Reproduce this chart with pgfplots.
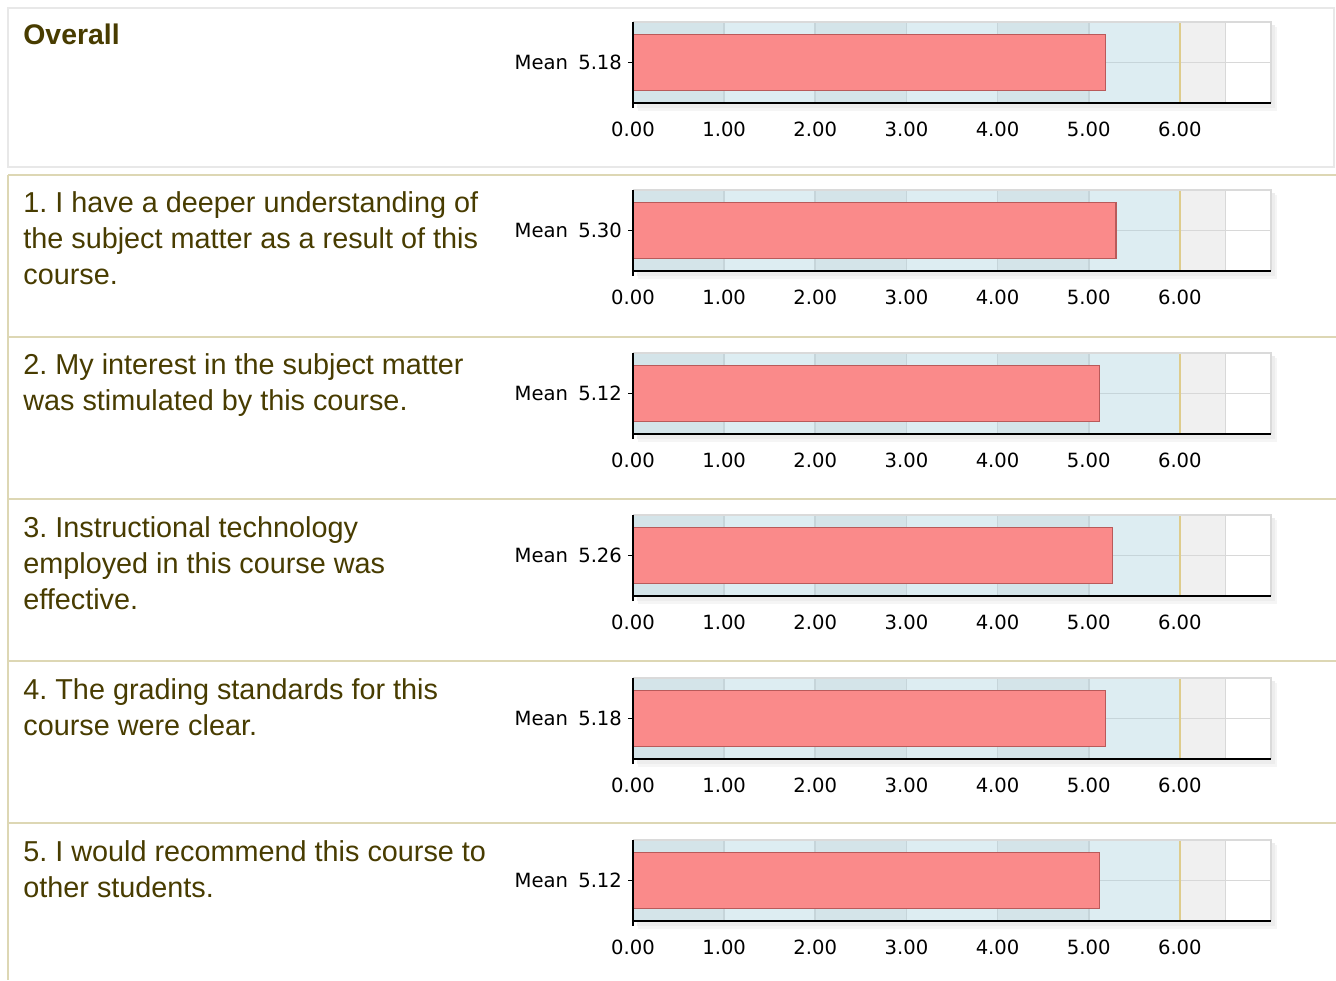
\documentclass[border=0pt]{standalone}
\usepackage{fontspec}
\setmainfont{Liberation Sans}
\newfontfamily\tickfont{DejaVu Sans}
\usepackage{pgfplots}
\pgfplotsset{compat=1.18}
\frenchspacing
\definecolor{txtol}{RGB}{72,60,0}
\definecolor{bandD}{RGB}{212,228,233}
\definecolor{bandL}{RGB}{221,237,242}
\definecolor{gridc}{RGB}{198,213,218}
\definecolor{grayreg}{RGB}{240,240,240}
\definecolor{gridg}{RGB}{216,216,216}
\definecolor{goldc}{RGB}{222,204,140}
\definecolor{barfill}{RGB}{250,138,138}
\definecolor{baredge}{RGB}{185,90,90}
\definecolor{framec}{RGB}{218,218,218}
\definecolor{tan}{RGB}{221,215,180}
\definecolor{box1}{RGB}{232,232,232}

\pgfplotsset{panel/.style={
  scale only axis, width=319pt, height=40.5pt,
  xmin=0, xmax=7, ymin=0, ymax=1,
  axis line style={draw=none},
  xtick={0,1,2,3,4,5,6}, ytick={0.5},
  xticklabels={0.00,1.00,2.00,3.00,4.00,5.00,6.00},
  tick align=outside, major tick length=2.5pt,
  xtick pos=left, ytick pos=left,
  tick style={black, line width=0.6pt},
  ticklabel style={font=\tickfont\fontsize{9.8}{11}\selectfont, text=black},
  xticklabel style={yshift=-3.5pt},
  yticklabel style={xshift=0.5pt},
  anchor=south west,
  clip=false,
}}

\newcommand\panelbg{%
  \fill[black!4] (axis cs:0.06,-0.10) rectangle (axis cs:7.07,0.94);
  \fill[black!7] (axis cs:0.04,-0.06) rectangle (axis cs:7.04,0.96);
  \fill[white] (axis cs:0,0) rectangle (axis cs:7,1);
  \fill[bandD] (axis cs:0,0) rectangle (axis cs:1,1);
  \fill[bandL] (axis cs:1,0) rectangle (axis cs:2,1);
  \fill[bandD] (axis cs:2,0) rectangle (axis cs:3,1);
  \fill[bandL] (axis cs:3,0) rectangle (axis cs:4,1);
  \fill[bandD] (axis cs:4,0) rectangle (axis cs:5,1);
  \fill[bandL] (axis cs:5,0) rectangle (axis cs:6,1);
  \fill[grayreg] (axis cs:6,0) rectangle (axis cs:6.5,1);
  \draw[gridc, line width=0.8pt] (axis cs:1,0) -- (axis cs:1,1);
  \draw[gridc, line width=0.8pt] (axis cs:2,0) -- (axis cs:2,1);
  \draw[gridc, line width=0.8pt] (axis cs:3,0) -- (axis cs:3,1);
  \draw[gridc, line width=0.8pt] (axis cs:4,0) -- (axis cs:4,1);
  \draw[gridc, line width=0.8pt] (axis cs:5,0) -- (axis cs:5,1);
  \draw[gridc, line width=0.8pt] (axis cs:0,0.5) -- (axis cs:6,0.5);
  \draw[gridg, line width=0.8pt] (axis cs:6,0.5) -- (axis cs:7,0.5);
  \draw[gridg, line width=0.8pt] (axis cs:6.5,0) -- (axis cs:6.5,1);
  \draw[goldc, line width=1.1pt] (axis cs:6,0) -- (axis cs:6,1);
}
\newcommand\panelframe{%
  \draw[framec, line width=1pt] (axis cs:0,1) -- (axis cs:7,1) -- (axis cs:7,0);
  \draw[black, line width=0.8pt] (axis cs:0,1) -- (axis cs:0,0) -- (axis cs:7,0);
}
\newcommand\qtext[2]{\node[anchor=base west, inner sep=0pt, text=txtol, font=\fontsize{14.4}{18}\selectfont] at (11.5pt,#1) {#2};}

\begin{document}
\begin{tikzpicture}
\path[use as bounding box] (0pt,0pt) rectangle (668pt,-490pt);
\fill[white] (0pt,0pt) rectangle (668pt,-490pt);
% panel frames
\draw[box1, line width=1pt] (4pt,-4pt) rectangle (667pt,-83.5pt);
\draw[tan, line width=1pt] (4pt,-87.5pt) -- (668pt,-87.5pt);
\draw[tan, line width=1.2pt] (4pt,-168.5pt) -- (668pt,-168.5pt);
\draw[tan, line width=1.2pt] (4pt,-249.5pt) -- (668pt,-249.5pt);
\draw[tan, line width=1.2pt] (4pt,-330.5pt) -- (668pt,-330.5pt);
\draw[tan, line width=1.2pt] (4pt,-411.5pt) -- (668pt,-411.5pt);
\draw[tan, line width=1pt] (4pt,-87.5pt) -- (4pt,-490pt);

% question texts
\node[anchor=base west, inner sep=0pt, text=txtol, font=\bfseries\fontsize{14.2}{18}\selectfont] at (11.5pt,-22pt) {Overall};
\qtext{-106pt}{1. I have a deeper understanding of}
\qtext{-124pt}{the subject matter as a result of this}
\qtext{-142pt}{course.}
\qtext{-187pt}{2. My interest in the subject matter}
\qtext{-205pt}{was stimulated by this course.}
\qtext{-268.5pt}{3. Instructional technology}
\qtext{-286.5pt}{employed in this course was}
\qtext{-304.5pt}{effective.}
\qtext{-349.5pt}{4. The grading standards for this}
\qtext{-367.5pt}{course were clear.}
\qtext{-430.5pt}{5. I would recommend this course to}
\qtext{-448.5pt}{other students.}

% charts
\begin{axis}[panel, at={(316.5pt,-51.5pt)}, yticklabels={Mean\ \hspace{2pt}5.18}]
\panelbg
\addplot[xbar, bar width=28pt, fill=barfill, draw=baredge, line width=0.6pt] coordinates {(5.18,0.5)};
\panelframe
\end{axis}

\begin{axis}[panel, at={(316.5pt,-135.5pt)}, yticklabels={Mean\ \hspace{2pt}5.30}]
\panelbg
\addplot[xbar, bar width=28pt, fill=barfill, draw=baredge, line width=0.6pt] coordinates {(5.30,0.5)};
\panelframe
\end{axis}

\begin{axis}[panel, at={(316.5pt,-217pt)}, yticklabels={Mean\ \hspace{2pt}5.12}]
\panelbg
\addplot[xbar, bar width=28pt, fill=barfill, draw=baredge, line width=0.6pt] coordinates {(5.12,0.5)};
\panelframe
\end{axis}

\begin{axis}[panel, at={(316.5pt,-298pt)}, yticklabels={Mean\ \hspace{2pt}5.26}]
\panelbg
\addplot[xbar, bar width=28pt, fill=barfill, draw=baredge, line width=0.6pt] coordinates {(5.26,0.5)};
\panelframe
\end{axis}

\begin{axis}[panel, at={(316.5pt,-379.5pt)}, yticklabels={Mean\ \hspace{2pt}5.18}]
\panelbg
\addplot[xbar, bar width=28pt, fill=barfill, draw=baredge, line width=0.6pt] coordinates {(5.18,0.5)};
\panelframe
\end{axis}

\begin{axis}[panel, at={(316.5pt,-460.5pt)}, yticklabels={Mean\ \hspace{2pt}5.12}]
\panelbg
\addplot[xbar, bar width=28pt, fill=barfill, draw=baredge, line width=0.6pt] coordinates {(5.12,0.5)};
\panelframe
\end{axis}
\end{tikzpicture}
\end{document}
